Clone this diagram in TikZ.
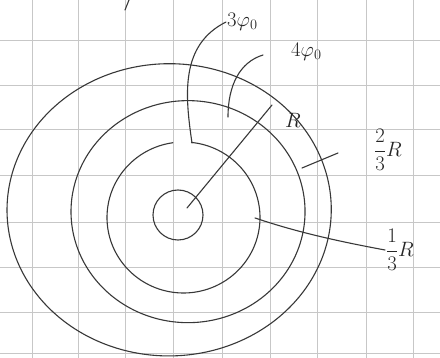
\documentclass[tikz,border=0pt]{standalone}
\usepackage{amsmath}
\begin{document}
\begin{tikzpicture}[x=1pt,y=-1pt,
  ink/.style={draw=black!78,line width=1.1pt,line cap=round,line join=round},
  gridline/.style={draw=black!22,line width=0.9pt},
  lbl/.style={text=black!85,font=\huge,inner sep=1pt}]
\useasboundingbox (0,0) rectangle (440,358);
\fill[white] (0,0) rectangle (440,358);
% graph paper
\foreach \gx in {32,78,125,173,222,270,317,366,413}
  \draw[gridline] (\gx,0) -- (\gx,358);
\foreach \gy in {40,85,129,175,222,267,312,353}
  \draw[gridline] (0,\gy) -- (440,\gy);
% rings (slightly lopsided ellipses)
\draw[ink] plot[domain=0:360,samples=120,smooth cycle,variable=\t]
  ({176+162*cos(\t)*(1+0.06*cos(\t-225))},{216+146*sin(\t)*(1+0.06*cos(\t-225))});
\draw[ink] plot[domain=0:360,samples=120,smooth cycle,variable=\t]
  ({190.5+117*cos(\t)*(1+0.03*cos(\t-225))},{214+111*sin(\t)*(1+0.03*cos(\t-225))});
\draw[ink] plot[domain=276:622,samples=100,smooth,variable=\t]
  ({183.5+76.5*cos(\t)},{217.5+75.5*sin(\t)});
\node[circle,draw=black!78,line width=1.1pt,minimum size=50pt,inner sep=0pt] (core) at (178,215) {};
% centre and radius
\coordinate (c) at (187,208);
\node[lbl] (R) at (293,120) {$R$};
\coordinate (rtip) at (272,105);
\draw[ink] (c) -- (rtip);
% labels and leaders
\node[lbl,anchor=west] (l3) at (226,22) {$3\varphi_0$};
\coordinate (a3) at (192,143);
\draw[ink] (a3) .. controls (185,95) and (180,45) .. (l3.west);
\node[lbl,anchor=west] (l4) at (290,52) {$4\varphi_0$};
\coordinate (a4) at (228,117);
\draw[ink] (a4) .. controls (228,85) and (240,62) .. (263,55);
\node[lbl] (l23) at (388,150) {$\dfrac{2}{3}R$};
\coordinate (t1) at (302,168);
\coordinate (t2) at (338,153);
\draw[ink] (t1) -- (t2);
\node[lbl] (l13) at (400,250) {$\dfrac{1}{3}R$};
\coordinate (a1) at (255,218);
\draw[ink] (a1) .. controls (285,228) and (320,238) .. (l13.west);
% stray mark at top
\coordinate (s1) at (129,0);
\coordinate (s2) at (125,10);
\draw[ink] (s1) -- (s2);
\end{tikzpicture}
\end{document}
